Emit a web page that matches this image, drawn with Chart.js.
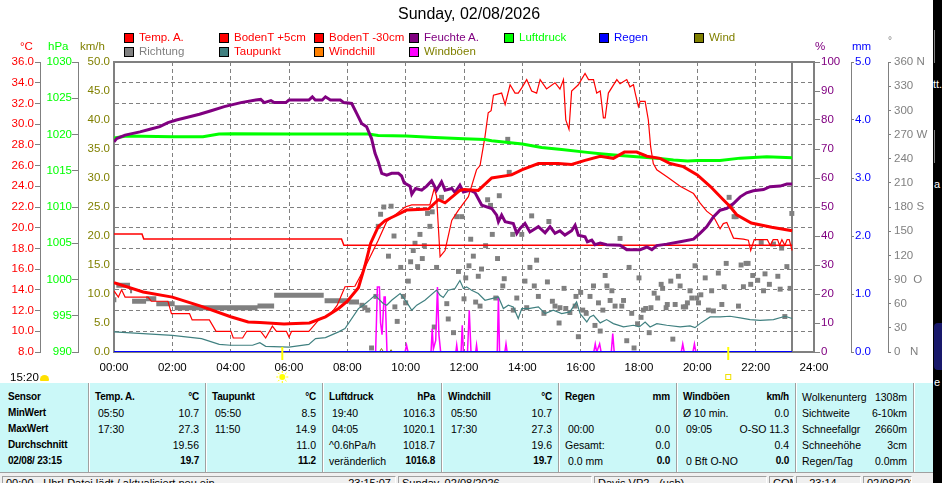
<!DOCTYPE html>
<html>
<head>
<meta charset="utf-8">
<script src="https://cdn.jsdelivr.net/npm/chart.js@4.4.1/dist/chart.umd.min.js"></script>
<style>
  body { margin: 0; width: 942px; height: 483px; overflow: hidden; background: #fff; position: relative;
         font-family: "Liberation Sans", Arial, sans-serif; }
  #chart { position: absolute; left: 0; top: 0; }
  .t { position: absolute; white-space: pre; }
  .box { position: absolute; width: 10px; height: 10px; box-sizing: border-box; border: 1px solid #000; }
  #panel { position: absolute; left: 0; top: 383px; width: 933px; height: 89px; background: #cbf8f8; }
  #panel .t { font-size: 10.5px; line-height: 16px; color: #000; }
  #panel .b { font-weight: bold; font-size: 10px; letter-spacing: -0.2px; }
  .sep { position: absolute; top: 0; height: 89px; width: 1px; background: #a0a0a0; border-right: 1px solid #fff; }
  #status { position: absolute; left: 0; top: 472px; width: 933px; height: 20px; background: #f0f0f0; border-top: 1px solid #a0a0a0; }
  #status .cell { position: absolute; top: 3px; height: 14px; box-sizing: border-box; border: 1px solid; border-color: #a0a0a0 #fff #fff #a0a0a0;
                  font-size: 11px; line-height: 13px; padding: 0 3px; white-space: pre; overflow: hidden; }
  #edge { position: absolute; left: 933px; top: 0; width: 9px; height: 483px; background: #000; color: #fff; font-size: 11px; overflow: hidden; }
</style>
</head>
<body>
<canvas id="chart" width="942" height="383"></canvas>
<div id="overlay"></div>
<div id="panel"></div>
<div id="status"></div>
<div id="edge">
  <div class="t" style="left:0;top:78px">tt.</div>
  <div class="t" style="left:1px;top:178px">a</div>
  <div class="t" style="left:1px;top:376px">e</div>
  <div style="position:absolute;left:1px;top:30px;width:1px;height:33px;background:#808080"></div>
  <div style="position:absolute;left:1px;top:130px;width:1px;height:33px;background:#808080"></div>
  <div style="position:absolute;left:1px;top:323px;width:9px;height:47px;background:#18186a;border-radius:4px 0 0 4px"></div>
</div>
<script>
// ----------- Data (hour of day, value) ------------
const hourLabels = ["00:00", "02:00", "04:00", "06:00", "08:00", "10:00", "12:00", "14:00", "16:00", "18:00", "20:00", "22:00", "24:00"];
const dirTicks = [0, 30, 60, 90, 120, 150, 180, 210, 240, 270, 300, 330, 360];
const dirTickText = ["0   N", "30", "60", "90  O", "120", "150", "180 S", "210", "240", "270 W", "300", "330", "360 N"];
const nowHour = 23.25;
const sunriseHour = 5.77;
const moonHour = 21.06;

const tempA = [[0, 14.7], [1, 13.8], [2, 13.3], [3, 12.4], [4, 11.4], [4.6, 10.9], [5, 10.85], [5.83, 10.7], [6, 10.72],
  [6.7, 10.8], [7.25, 11.4], [7.7, 12.2], [8, 12.9], [8.38, 14.2], [8.6, 16.3], [8.8, 18.5], [9.06, 20.1], [9.3, 20.7],
  [9.75, 21.3], [10.03, 21.7], [10.78, 21.8], [11.12, 22.7], [11.35, 22.4], [11.86, 23.6], [12.01, 23.7], [12.49, 23.6],
  [12.95, 24.8], [13.63, 25.1], [14, 25.6], [14.55, 26.2], [15.23, 26.2], [15.69, 26.1], [16.15, 26.5], [16.67, 26.9],
  [17.12, 26.7], [17.5, 27.3], [17.92, 27.3], [18.27, 26.9], [18.72, 26.7], [19.07, 26.2], [19.52, 25.9], [20, 25.1],
  [20.44, 24.0], [20.89, 22.7], [21.12, 22.05], [21.35, 21.25], [21.85, 20.45], [22.55, 20.05], [23.25, 19.7]];
const windchill = tempA;

const bodenT5 = [[0, 13.9], [0.15, 13.3], [0.26, 14.0], [0.38, 13.3], [1.17, 13.3], [1.28, 12.9], [1.85, 12.9], [1.97, 11.7],
  [2.59, 11.7], [2.68, 11.1], [3.27, 11.1], [3.5, 10.0], [4.01, 10.0], [4.09, 9.35], [4.41, 9.35], [4.55, 10.0], [5.03, 10.0],
  [5.2, 9.35], [5.43, 10.5], [5.57, 10.0], [5.91, 10.0], [6.0, 9.45], [6.09, 10.0], [6.68, 10.0], [7.02, 11.1], [7.42, 11.65],
  [7.65, 12.5], [7.92, 14.3], [8.26, 14.35], [8.61, 16.2], [9.06, 18.8], [9.35, 20.6], [9.58, 21.1], [9.98, 22.0], [10.21, 22.2],
  [10.83, 22.2], [10.98, 23.8], [11.06, 23.0], [11.18, 17.2], [11.35, 17.8], [11.58, 20.7], [11.81, 21.7], [12.15, 23.0],
  [12.43, 25.6], [12.55, 26.0], [12.72, 28.8], [12.83, 31.1], [12.93, 31.3], [13.01, 32.8], [13.29, 33.0], [13.41, 31.9],
  [13.58, 33.8], [13.75, 33.0], [13.86, 33.0], [13.98, 33.5], [14.15, 34.3], [14.32, 33.2], [14.49, 33.0], [14.61, 34.3],
  [14.83, 33.4], [15.12, 34.0], [15.29, 33.4], [15.41, 34.3], [15.49, 30.4], [15.6, 29.5], [15.69, 33.2], [15.92, 33.8],
  [16.15, 34.9], [16.27, 34.3], [16.44, 34.3], [16.55, 33.0], [16.67, 33.2], [16.78, 30.6], [16.84, 30.6], [16.95, 33.0],
  [17.24, 34.3], [17.35, 33.9], [17.58, 34.3], [17.69, 33.6], [17.81, 33.8], [17.87, 33.0], [17.98, 31.7], [18.04, 32.2],
  [18.21, 32.2], [18.32, 30.4], [18.4, 27.8], [18.49, 26.2], [18.61, 25.6], [18.97, 24.9], [19.41, 24.0], [19.87, 23.3],
  [20.09, 22.4], [20.32, 21.6], [20.55, 21.1], [20.78, 19.9], [20.89, 20.4], [21.01, 20.5], [21.24, 19.0], [21.58, 18.9],
  [21.75, 18.8], [21.83, 17.8], [21.95, 18.85], [22.4, 18.85], [22.5, 18.3], [22.6, 18.85], [22.75, 18.85], [22.82, 18.3],
  [22.9, 18.85], [23.0, 18.3], [23.08, 18.85], [23.15, 18.85], [23.25, 17.8]];

const bodenT30 = [[0, 19.4], [0.96, 19.4], [1.02, 18.9], [7.8, 18.9], [7.88, 18.3], [23.25, 18.3]];

const taupunkt = [[0, 9.94], [1, 9.77], [2, 9.6], [3, 9.29], [3.61, 8.74], [4, 8.65], [4.75, 8.65], [5, 8.9], [5.2, 8.55],
  [6, 8.48], [6.68, 8.74], [6.91, 9.29], [7.25, 9.39], [7.7, 9.94], [7.92, 10.26], [8.38, 12.19], [8.55, 12.52], [8.78, 13.06],
  [8.95, 13.48], [9.06, 13.16], [9.23, 12.68], [9.35, 12.52], [9.52, 13.0], [9.81, 13.65], [10.03, 12.84], [10.21, 12.03],
  [10.38, 12.52], [10.66, 13.0], [11.06, 13.97], [11.18, 13.48], [11.29, 13.26], [11.46, 13.97], [11.69, 14.13], [11.86, 14.9],
  [11.98, 14.13], [12.09, 14.29], [12.26, 13.97], [12.49, 13.65], [12.72, 13.0], [12.95, 13.16], [13.18, 13.32], [13.35, 12.19],
  [13.52, 12.52], [13.69, 12.35], [13.86, 11.23], [13.98, 12.19], [14.21, 12.19], [14.55, 12.35], [14.78, 11.71], [15.06, 12.03],
  [15.35, 11.71], [15.63, 11.87], [15.86, 12.84], [15.98, 11.71], [16.21, 10.9], [16.32, 11.39], [16.44, 11.55], [16.67, 10.81],
  [16.89, 11.13], [17.12, 10.74], [17.47, 10.42], [17.81, 10.58], [18.01, 10.42], [18.21, 10.9], [18.38, 10.42], [18.61, 10.74],
  [18.95, 10.58], [19.41, 10.42], [19.75, 10.52], [19.92, 10.35], [20.09, 10.74], [20.44, 11.39], [20.78, 11.39], [21.12, 11.45],
  [21.47, 11.29], [21.81, 11.13], [22.15, 11.06], [22.61, 11.13], [23.01, 11.45], [23.25, 11.23]];

const luftdruck = [[0, 1019.5], [0.43, 1019.8], [2, 1019.7], [3.05, 1019.7], [3.6, 1020.06], [4.08, 1020.1], [6, 1020.06],
  [8, 1020.06], [8.72, 1020.06], [9.06, 1019.87], [10.03, 1019.78], [11, 1019.6], [12, 1019.4], [12.72, 1019.3], [12.95, 1019.14],
  [14, 1018.7], [14.66, 1018.2], [15.35, 1017.94], [16.15, 1017.57], [16.67, 1017.34], [17.35, 1017.1], [18.72, 1016.7],
  [19.18, 1016.47], [19.67, 1016.33], [20, 1016.4], [20.78, 1016.4], [21.47, 1016.74], [22.38, 1016.93], [23.25, 1016.8]];

const feuchte = [[0, 72.5], [0.09, 73.6], [0.38, 74.8], [0.89, 75.9], [1.23, 76.8], [1.57, 77.7], [1.85, 79.1], [2.14, 80.0],
  [2.59, 81.1], [2.93, 82.0], [3.33, 83.2], [3.78, 84.6], [4.35, 86.0], [4.86, 86.9], [5.03, 87.1], [5.15, 86.0], [5.38, 86.7],
  [5.49, 86.0], [5.89, 86.0], [6.0, 86.9], [6.68, 86.9], [6.8, 88.0], [6.9, 86.9], [7.14, 86.9], [7.25, 88.0], [7.42, 86.9],
  [7.76, 86.9], [7.88, 86.0], [8.15, 85.7], [8.32, 82.3], [8.49, 78.8], [8.66, 77.7], [8.83, 73.6], [8.95, 68.5], [9.06, 65.6],
  [9.18, 61.6], [9.35, 61.0], [9.52, 61.6], [9.75, 61.6], [9.86, 60.7], [9.95, 58.3], [10.15, 57.2], [10.21, 54.4], [10.34, 56.4],
  [10.55, 55.8], [10.72, 57.2], [10.89, 59.0], [11.06, 55.8], [11.23, 58.7], [11.35, 55.8], [11.58, 56.4], [11.69, 55.0],
  [11.86, 57.5], [11.98, 55.2], [12.21, 55.8], [12.38, 54.9], [12.61, 50.6], [12.95, 49.5], [13.12, 47.2], [13.18, 44.9],
  [13.29, 47.2], [13.41, 44.9], [13.69, 44.3], [13.81, 40.9], [13.92, 42.6], [14.09, 44.3], [14.26, 41.4], [14.55, 43.2],
  [14.78, 41.1], [14.95, 43.2], [15.12, 40.9], [15.29, 41.8], [15.46, 40.3], [15.69, 41.8], [15.81, 43.7], [15.92, 40.3],
  [16.15, 39.7], [16.23, 38.0], [16.38, 38.6], [16.49, 37.0], [16.67, 37.6], [16.89, 37.0], [17.35, 36.8], [17.58, 35.3],
  [18.04, 35.3], [18.27, 36.2], [18.44, 35.3], [18.61, 36.7], [18.95, 37.2], [19.41, 38.0], [19.87, 38.9], [20.09, 40.9],
  [20.32, 43.2], [20.55, 46.6], [20.78, 48.9], [21.01, 49.5], [21.24, 51.2], [21.47, 53.5], [21.69, 54.9], [21.92, 55.6],
  [22.27, 56.0], [22.49, 57.0], [22.84, 57.2], [23.07, 57.9], [23.25, 57.9]];

const windboeen = [[8.9, 0], [8.97, 0], [9.03, 11.2], [9.1, 11.2], [9.14, 5], [9.19, 3], [9.26, 9.5], [9.3, 9.5], [9.36, 0],
  [9.98, 0], [10.03, 1.2], [10.08, 0], [10.87, 0], [10.91, 4.0], [10.95, 0.5], [11.03, 2], [11.09, 11.2], [11.14, 3], [11.2, 0],
  [11.72, 0], [11.75, 1.2], [11.78, 0], [11.9, 0], [11.94, 4.6], [11.98, 0], [12.12, 0], [12.18, 7.2], [12.24, 0], [12.4, 0],
  [12.43, 1.2], [12.46, 0], [13.14, 0], [13.18, 9.5], [13.22, 0], [13.4, 0], [13.44, 1.4], [13.48, 0], [16.45, 0], [16.5, 1.4],
  [16.55, 0], [16.65, 1.4], [16.7, 0], [17.05, 0], [17.1, 3.2], [17.15, 0], [19.45, 0], [19.5, 1.4], [19.55, 0], [19.85, 0],
  [19.9, 1.4], [19.95, 0]];

const wind = [[0, 0], [9.1, 0], [9.17, 0.6], [9.24, 0], [9.45, 0], [9.5, 0.4], [9.55, 0], [23.25, 0]];
const regen = [[0, 0], [23.25, 0]];

// Richtung: continuous runs in the night [from, to, degrees], then single readings
const dirRuns = [[0, 0.08, 65], [0.08, 0.55, 83], [0.55, 0.62, 76], [0.62, 1.1, 63], [1.1, 1.45, 66], [1.45, 2.08, 60],
  [2.08, 4.92, 55], [4.92, 5.49, 57], [5.49, 7.19, 70.5], [7.22, 8.05, 63.5], [8.05, 8.4, 62]];
const dirPoints = [[8.5, 58], [8.6, 55], [8.7, 52], [8.83, 5], [8.98, 69], [9.06, 156], [9.14, 171], [9.25, 180], [9.41, 119],
  [9.5, 181], [9.6, 144], [9.63, 56], [9.71, 38], [9.83, 105], [9.92, 69], [10.0, 61], [10.09, 88], [10.17, 112], [10.26, 126],
  [10.32, 135], [10.41, 106], [10.49, 146], [10.57, 116], [10.64, 132], [10.75, 172], [10.83, 156], [10.91, 174], [10.98, 31],
  [11.06, 105], [11.23, 192], [11.41, 60], [11.46, 41], [11.64, 24], [11.75, 168], [11.81, 100], [11.92, 168], [12.0, 66],
  [12.06, 92], [12.17, 107], [12.23, 140], [12.32, 119], [12.4, 62], [12.49, 94], [12.55, 57], [12.6, 103], [12.74, 132],
  [12.81, 189], [12.91, 182], [12.97, 146], [13.09, 67], [13.15, 116], [13.21, 194], [13.33, 82], [13.38, 91], [13.5, 264],
  [13.55, 223], [13.67, 146], [13.69, 52], [13.81, 67], [13.98, 146], [14.09, 88], [14.15, 55], [14.26, 105], [14.32, 169],
  [14.41, 82], [14.49, 114], [14.55, 69], [14.74, 48], [14.86, 87], [14.91, 162], [15.03, 63], [15.12, 57], [15.26, 36],
  [15.29, 55], [15.43, 79], [15.49, 54], [15.63, 49], [15.81, 57], [15.84, 69], [15.92, 19], [16.0, 74], [16.07, 52],
  [16.19, 48], [16.32, 69], [16.44, 82], [16.49, 33], [16.61, 61], [16.67, 26], [16.76, 52], [16.84, 95], [16.9, 82],
  [17.01, 64], [17.07, 76], [17.18, 57], [17.35, 141], [17.41, 57], [17.47, 64], [17.58, 14], [17.66, 105], [17.75, 48],
  [17.83, 5], [17.95, 35], [18.0, 92], [18.07, 43], [18.15, 52], [18.23, 54], [18.35, 24], [18.41, 55], [18.52, 73],
  [18.64, 67], [18.76, 84], [18.81, 79], [18.93, 55], [18.97, 59], [19.09, 88], [19.16, 16], [19.24, 59], [19.35, 94],
  [19.41, 82], [19.52, 56], [19.6, 56], [19.66, 61], [19.75, 76], [19.81, 67], [19.92, 107], [19.98, 67], [20.04, 61],
  [20.12, 71], [20.27, 92], [20.38, 52], [20.49, 76], [20.55, 51], [20.72, 98], [20.84, 59], [20.92, 81], [20.99, 110],
  [21.09, 192], [21.15, 181], [21.26, 168], [21.33, 168], [21.41, 57], [21.5, 108], [21.58, 81], [21.67, 110], [21.74, 110],
  [21.83, 84], [21.9, 95], [22.07, 89], [22.19, 136], [22.27, 76], [22.32, 97], [22.47, 84], [22.61, 134], [22.76, 94],
  [22.84, 78], [22.89, 129], [23.0, 44], [23.07, 106], [23.18, 79], [23.24, 172]];

// ----------- Legend / table text ------------
const legendNames = ["Temp. A.", "BodenT +5cm", "BodenT -30cm", "Feuchte A.", "Luftdruck", "Regen", "Wind",
  "Richtung", "Taupunkt", "Windchill", "Windböen"];
const panelCells = [
  [["Sensor", ""], ["MinWert", ""], ["MaxWert", ""], ["Durchschnitt", ""], ["02/08/ 23:15", ""]],
  [["Temp. A.", "°C"], [" 05:50", "10.7"], [" 17:30", "27.3"], ["", "19.56"], ["", "19.7"]],
  [["Taupunkt", "°C"], [" 05:50", "8.5"], [" 11:50", "14.9"], ["", "11.0"], ["", "11.2"]],
  [["Luftdruck", "hPa"], [" 19:40", "1016.3"], [" 04:05", "1020.1"], ["^0.6hPa/h", "1018.7"], ["veränderlich", "1016.8"]],
  [["Windchill", "°C"], [" 05:50", "10.7"], [" 17:30", "27.3"], ["", "19.6"], ["", "19.7"]],
  [["Regen", "mm"], ["", ""], [" 00:00", "0.0"], ["Gesamt:", "0.0"], [" 0.0 mm", "0.0"]],
  [["Windböen", "km/h"], ["Ø 10 min.", "0.0"], [" 09:05", "O-SO 11.3"], ["", "0.4"], [" 0 Bft O-NO", "0.0"]],
  [["Wolkenunterg", "1308m"], ["Sichtweite", "6-10km"], ["Schneefallgr", "2660m"], ["Schneehöhe", "3cm"], ["Regen/Tag", "0.0mm"]],
];
const statusCells = [["00:00 - Uhr! Datei lädt / aktualisiert neu ein", "23:15:07"], ["Sunday, 02/08/2026", ""],
  ["Davis VP2 - (usb)", ""], ["COM 3", ""], ["   23:14", ""], ["02/08/2026", ""]];

// ----------- Styles ------------
const RED = "#ff0000", PURPLE = "#800080", GREEN = "#00ff00", BLUE = "#0000ff", OLIVE = "#808000",
  GRAY = "#808080", TEAL = "#408080", ORANGE = "#ff8000", MAGENTA = "#ff00ff";
const legendBox = [RED, RED, RED, PURPLE, GREEN, BLUE, OLIVE, GRAY, TEAL, ORANGE, MAGENTA];
const legendInk = [RED, RED, RED, PURPLE, GREEN, BLUE, OLIVE, GRAY, RED, RED, OLIVE];

// ----------- HTML overlay: title, legend, units ------------
const overlay = document.getElementById("overlay");
let html = '<div class="t" style="left:398px;top:5px;font-size:16px;color:#000">Sunday, 02/08/2026</div>';
legendNames.forEach((name, i) => {
  const col = i < 7 ? i : i - 7;
  const left = 124 + col * 95;
  const top = i < 7 ? 33 : 47;
  html += `<div class="box" style="left:${left}px;top:${top}px;background:${legendBox[i]}"></div>`;
  html += `<div class="t" style="left:${left + 15}px;top:${top - 2}px;font-size:11.5px;color:${legendInk[i]}">${name}</div>`;
});
const units = [["°C", 20, RED], ["hPa", 48, GREEN], ["km/h", 80, OLIVE], ["%", 815, PURPLE], ["mm", 852, BLUE]];
units.forEach(([u, left, c]) => {
  html += `<div class="t" style="left:${left}px;top:40px;font-size:11.5px;color:${c}">${u}</div>`;
});
html += `<div class="t" style="left:888px;top:35px;font-size:10px;color:${GRAY}">°</div>`;
html += '<div class="t" style="left:10px;top:371px;font-size:11.5px;color:#000">15:20</div>';
html += '<div style="position:absolute;left:40px;top:375px;width:9px;height:6px;background:#ffe000;border-radius:5px 5px 1px 1px"></div>';
overlay.innerHTML = html;

// ----------- Bottom panel ------------
const panelEdges = [0, 88, 205, 322, 441, 558, 676, 795, 913];
let ph = "";
panelCells.forEach((rows, c) => {
  const l = panelEdges[c], r = panelEdges[c + 1];
  if (c > 0) ph += `<div class="sep" style="left:${l}px"></div>`;
  rows.forEach(([lt, rt], row) => {
    const top = 6 + row * 16;
    const boldL = c === 0 || (row === 0 && c < 7);
    const boldR = c > 0 && c < 7 && (row === 0 || row === 4);
    if (lt) ph += `<div class="t${boldL ? " b" : ""}" style="left:${l + (c === 0 ? 8 : 7)}px;top:${top}px">${lt}</div>`;
    if (rt) ph += `<div class="t${boldR ? " b" : ""}" style="right:${933 - r + 6}px;top:${top}px">${rt}</div>`;
  });
});
ph += `<div class="sep" style="left:913px"></div>`;
document.getElementById("panel").innerHTML = ph;

const statusEdges = [2, 398, 594, 769, 796, 863, 914];
document.getElementById("status").innerHTML = statusCells.map(([a, b], i) =>
  `<div class="cell" style="left:${statusEdges[i]}px;width:${statusEdges[i + 1] - statusEdges[i] - 2}px">${a}` +
  (b ? `<span style="position:absolute;right:4px">${b}</span>` : "") + "</div>").join("");

// ----------- Chart ------------
const pts = (arr) => arr.map(([x, y]) => ({ x, y }));
const runs = [];
dirRuns.forEach(([a, b, v]) => { runs.push({ x: a, y: v }, { x: b, y: v }, { x: b, y: null }); });

const lineDs = (label, data, color, width, axis) => ({
  label, data: pts(data), borderColor: color, backgroundColor: color, borderWidth: width,
  yAxisID: axis, pointRadius: 0, tension: 0, fill: false,
});

const framePlugin = {
  id: "frame",
  beforeDatasetsDraw(chart) {
    const { ctx, chartArea: a } = chart;
    const nx = Math.round(chart.scales.x.getPixelForValue(nowHour));
    ctx.save();
    ctx.strokeStyle = GRAY;
    ctx.lineWidth = 2;
    ctx.strokeRect(a.left, a.top, a.right - a.left, a.bottom - a.top);
    ctx.beginPath();
    ctx.moveTo(nx, a.top);
    ctx.lineTo(nx, a.bottom);
    ctx.stroke();
    ctx.restore();
  },
  afterDraw(chart) {
    const { ctx, chartArea: a } = chart;
    const sx = chart.scales.x.getPixelForValue(sunriseHour);
    const mx = chart.scales.x.getPixelForValue(moonHour);
    ctx.save();
    ctx.strokeStyle = "#ffff00";
    ctx.fillStyle = "#ffff00";
    ctx.lineWidth = 2;
    [sx, mx].forEach((px) => {
      ctx.beginPath();
      ctx.moveTo(px, a.bottom - 5);
      ctx.lineTo(px, a.bottom + 8);
      ctx.stroke();
    });
    ctx.beginPath();
    ctx.arc(sx, 377, 3, 0, Math.PI * 2);
    ctx.fill();
    ctx.lineWidth = 1;
    for (let i = 0; i < 8; i++) {
      const an = (i * Math.PI) / 4;
      ctx.beginPath();
      ctx.moveTo(sx + Math.cos(an) * 4, 377 + Math.sin(an) * 4);
      ctx.lineTo(sx + Math.cos(an) * 6, 377 + Math.sin(an) * 6);
      ctx.stroke();
    }
    ctx.strokeStyle = "#f0e000";
    ctx.strokeRect(mx - 2.5, 374.5, 5, 5);
    ctx.restore();
  },
};

Chart.defaults.font.family = '"Liberation Sans", Arial, sans-serif';
Chart.defaults.font.size = 11.5;

const sideAxis = (position, weight, width, min, max, step, color, fmt, tickLen, pad) => ({
  type: "linear", position, weight, min, max,
  ticks: { stepSize: step, color, padding: pad, autoSkip: false, callback: fmt },
  grid: { drawOnChartArea: false, display: tickLen > 0, tickLength: tickLen, color: GRAY, tickBorderDash: [] },
  border: { display: tickLen > 0, color: GRAY },
  afterFit: (s) => { s.width = width; },
});

const yT = sideAxis("left", 3, 40, 8, 36, 2, RED, (v) => v.toFixed(1), 5, 1);
yT.grid.drawOnChartArea = true;
const dashBorder = { display: true, color: GRAY, dash: [4, 3] };
yT.border = dashBorder;

new Chart(document.getElementById("chart"), {
  type: "line",
  data: {
    datasets: [
      lineDs("Regen", regen, BLUE, 2, "yR"),
      lineDs("Temp. A.", tempA, RED, 3, "yT"),
      lineDs("Feuchte A.", feuchte, PURPLE, 3, "yH"),
      lineDs("Luftdruck", luftdruck, GREEN, 3, "yP"),
      lineDs("Windchill", windchill, ORANGE, 1, "yT"),
      lineDs("BodenT +5cm", bodenT5, RED, 1.2, "yT"),
      lineDs("BodenT -30cm", bodenT30, RED, 1.5, "yT"),
      lineDs("Taupunkt", taupunkt, TEAL, 1.2, "yT"),
      lineDs("Wind", wind, OLIVE, 1, "yW"),
      lineDs("Windböen", windboeen, MAGENTA, 1.5, "yW"),
      { label: "Richtung", data: runs, borderColor: GRAY, borderWidth: 5, borderCapStyle: "butt",
        yAxisID: "yD", pointRadius: 0, spanGaps: false, tension: 0 },
      { label: "Richtung", data: pts(dirPoints), showLine: false, yAxisID: "yD",
        pointStyle: "rect", pointRadius: 3.5, pointBorderWidth: 0, pointBackgroundColor: GRAY, borderColor: GRAY },
    ],
  },
  options: {
    responsive: false,
    animation: false,
    events: [],
    layout: { padding: { top: 62, left: 0, right: 0, bottom: 0 } },
    plugins: { legend: { display: false }, tooltip: { enabled: false } },
    scales: {
      x: {
        type: "linear", min: 0, max: 24,
        ticks: { stepSize: 2, color: "#000", padding: 9, maxRotation: 0, autoSkip: false,
                 callback: (v) => hourLabels[v / 2] },
        grid: { color: GRAY, drawTicks: false },
        border: { display: false, dash: [4, 3] },
        afterFit: (s) => { s.height = 31; },
      },
      yT,
      yP: sideAxis("left", 2, 38, 990, 1030, 5, GREEN, (v) => String(v), 6, 0),
      yW: sideAxis("left", 1, 36, 0, 50, 5, OLIVE, (v) => v.toFixed(1), 0, 4),
      yH: sideAxis("right", 1, 37, 0, 100, 10, PURPLE, (v) => String(v), 6, 1),
      yR: sideAxis("right", 2, 37, 0, 5, 1, BLUE, (v) => v.toFixed(1), 3, 1),
      yD: sideAxis("right", 3, 54, 0, 360, 30, GRAY, (v) => dirTickText[dirTicks.indexOf(v)], 3, 3),
    },
  },
  plugins: [framePlugin],
});
</script>
</body>
</html>
